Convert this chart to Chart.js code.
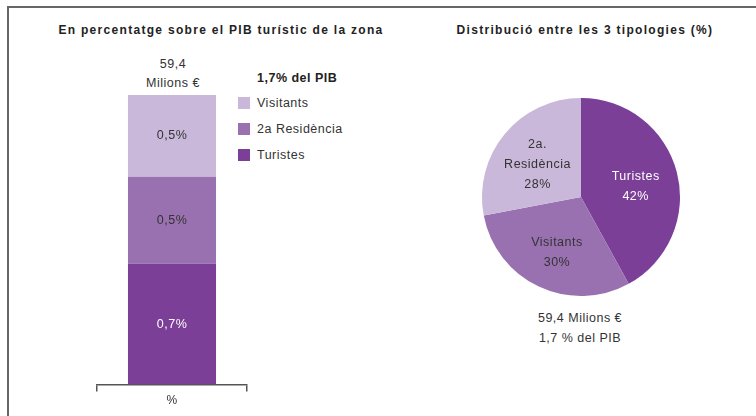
<!DOCTYPE html>
<html>
<head>
<meta charset="utf-8">
<script src="https://cdn.jsdelivr.net/npm/chart.js@4.4.0/dist/chart.umd.min.js"></script>
<style>
body{margin:0;width:756px;height:416px;background:#fff;position:relative;overflow:hidden;font-family:"Liberation Sans",Arial,sans-serif;color:#333;letter-spacing:0.5px;}
.frame{position:absolute;left:7px;top:6px;right:0;bottom:0;border-top:2px solid #666;border-left:2px solid #666;}
.t{position:absolute;white-space:nowrap;text-align:center;}
.title{font-weight:bold;font-size:12px;color:#222;top:23px;letter-spacing:1.3px;}
#barWrap{position:absolute;left:77px;top:90px;width:190px;height:320px;}
#pieWrap{position:absolute;left:470px;top:86px;width:222px;height:222px;}
.legend{position:absolute;left:238px;top:97px;font-size:12.5px;}
.legend div{height:26px;line-height:13px;position:relative;padding-left:19px;}
.legend span{position:absolute;left:0;top:0;width:12px;height:12px;}
</style>
</head>
<body>
<div class="frame"></div>
<div class="t title" style="left:20px;width:402px;">En percentatge sobre el PIB turístic de la zona</div>
<div class="t title" style="left:430px;width:310px;">Distribució entre les 3 tipologies (%)</div>
<div class="t" style="left:123px;width:100px;top:55px;font-size:12.5px;line-height:19px;">59,4<br>Milions €</div>
<div class="t" style="left:257px;top:71px;font-size:12.5px;font-weight:bold;color:#222;">1,7% del PIB</div>
<div class="legend" id="legend"></div>
<div class="t" style="left:480px;width:200px;top:308px;font-size:12.5px;line-height:20px;">59,4 Milions €<br>1,7 % del PIB</div>
<div id="barWrap"><canvas id="bar"></canvas></div>
<div id="pieWrap"><canvas id="pie"></canvas></div>
<script>
// dades
const barCategories = ['%'];
const barSeries = ['Turistes', '2a Residència', 'Visitants'];
const barValues = [0.71, 0.51, 0.48];
const barColors = ['#7b3f98', '#9a71b0', '#c9b8da'];

const pieLabels = [['Turistes'], ['Visitants'], ['2a.', 'Residència']];
const pieValues = [42, 30, 28];
const pieColors = ['#7b3f98', '#9a71b0', '#c9b8da'];

Chart.defaults.font.family = '"Liberation Sans", Arial, sans-serif';
Chart.defaults.font.size = 12.5;
Chart.defaults.color = '#333';

function fmt(v){ return v.toFixed(1).replace('.', ',') + '%'; }

// llegenda (de dalt a baix com la pila)
var leg = document.getElementById('legend');
for (var i = barSeries.length - 1; i >= 0; i--) {
	var d = document.createElement('div');
	d.innerHTML = '<span style="background:' + barColors[i] + '"></span>' + barSeries[i];
	leg.appendChild(d);
}

var barText = {
	id: 'barText',
	afterDatasetsDraw: function(chart){
		var ctx = chart.ctx;
		ctx.save();
		ctx.font = '12.5px "Liberation Sans", Arial, sans-serif';
		ctx.letterSpacing = '0.5px';
		ctx.textAlign = 'center';
		ctx.textBaseline = 'middle';
		chart.data.datasets.forEach(function(ds, i){
			var el = chart.getDatasetMeta(i).data[0];
			ctx.fillStyle = i == 0 ? '#fff' : '#333';
			ctx.fillText(fmt(ds.data[0]), el.x, (el.y + el.base) / 2);
		});
		ctx.restore();
	}
};

var pieText = {
	id: 'pieText',
	afterDatasetsDraw: function(chart){
		var ctx = chart.ctx;
		ctx.save();
		ctx.font = '12.5px "Liberation Sans", Arial, sans-serif';
		ctx.letterSpacing = '0.5px';
		ctx.textAlign = 'center';
		ctx.textBaseline = 'middle';
		chart.getDatasetMeta(0).data.forEach(function(arc, i){
			var a = (arc.startAngle + arc.endAngle) / 2;
			var r = arc.outerRadius * 0.57;
			var x = arc.x + Math.cos(a) * r;
			var y = arc.y + Math.sin(a) * r + 4;
			var lines = pieLabels[i].concat([pieValues[i] + '%']);
			ctx.fillStyle = i == 0 ? '#fff' : '#333';
			lines.forEach(function(l, k){
				ctx.fillText(l, x, y + (k - (lines.length - 1) / 2) * 20);
			});
		});
		ctx.restore();
	}
};

new Chart(document.getElementById('bar'), {
	type: 'bar',
	data: {
		labels: barCategories,
		datasets: barSeries.map(function(s, i){
			return { label: s, data: [barValues[i]], backgroundColor: barColors[i], borderWidth: 0, categoryPercentage: 1, barPercentage: 0.587 };
		})
	},
	options: {
		responsive: true, maintainAspectRatio: false, animation: false,
		layout: { padding: { left: 20, right: 20, top: 5, bottom: 0 } },
		plugins: { legend: { display: false }, tooltip: { enabled: false } },
		scales: {
			x: {
				stacked: true, offset: true,
				grid: { offset: true, drawOnChartArea: false, drawTicks: true, tickLength: 7, color: '#555', lineWidth: 1.5 },
				border: { display: true, color: '#555', width: 1.5 },
				ticks: { color: '#333', padding: 2, font: { size: 12 } }
			},
			y: { stacked: true, display: false, min: 0, max: 1.7 }
		}
	},
	plugins: [barText]
});

new Chart(document.getElementById('pie'), {
	type: 'pie',
	data: {
		labels: pieLabels.map(function(l){ return l.join(' '); }),
		datasets: [{ data: pieValues, backgroundColor: pieColors, borderWidth: 0 }]
	},
	options: {
		responsive: true, maintainAspectRatio: false, animation: false,
		layout: { padding: 12 },
		plugins: { legend: { display: false }, tooltip: { enabled: false } }
	},
	plugins: [pieText]
});
</script>
</body>
</html>
